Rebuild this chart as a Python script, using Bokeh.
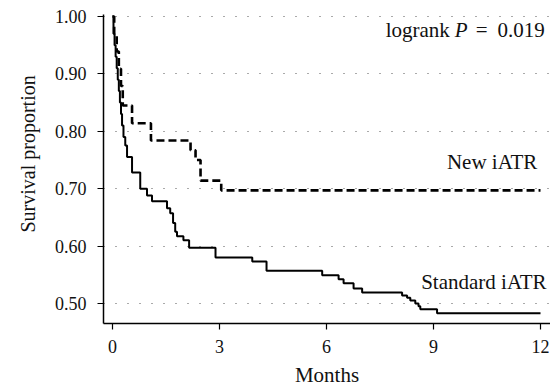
from bokeh.plotting import figure
from bokeh.models import FixedTicker, Range1d, Label, Title
from bokeh.embed import file_html
from bokeh.resources import INLINE

# Data
std_t = [0, 0.03, 0.06, 0.09, 0.12, 0.15, 0.18, 0.21, 0.24, 0.27, 0.31, 0.36, 0.41,
         0.55, 0.78, 0.97, 1.11, 1.53, 1.62, 1.70, 1.76, 1.81, 1.99, 2.15, 2.89, 3.92,
         4.32, 5.88, 6.34, 6.48, 6.76, 7.00, 8.12, 8.26, 8.35, 8.49, 8.58, 8.63, 9.10, 12.0]
std_s = [1.00, 0.97, 0.95, 0.93, 0.91, 0.89, 0.87, 0.85, 0.83, 0.81, 0.79, 0.775, 0.755,
         0.728, 0.700, 0.688, 0.678, 0.666, 0.657, 0.640, 0.625, 0.617, 0.610, 0.597, 0.580, 0.573,
         0.557, 0.549, 0.542, 0.535, 0.526, 0.519, 0.514, 0.510, 0.505, 0.500, 0.495, 0.490, 0.483, 0.483]

new_t = [0, 0.05, 0.12, 0.18, 0.24, 0.29, 0.55, 1.08, 2.19, 2.33, 2.47, 3.05, 12.0]
new_s = [1.0, 0.970, 0.939, 0.909, 0.879, 0.845, 0.814, 0.784, 0.767, 0.750, 0.714, 0.697, 0.697]

x_ticks = [0, 3, 6, 9, 12]
y_ticks = [0.5, 0.6, 0.7, 0.8, 0.9, 1.0]
y_tick_labels = ["0.50", "0.60", "0.70", "0.80", "0.90", "1.00"]

FONT = "Liberation Serif"
TICK_FS = "18px"
LAB_FS = "21px"

p = figure(width=550, height=391, output_backend="svg", toolbar_location=None,
           x_range=Range1d(-0.25, 12.28), y_range=Range1d(0.465, 1.0035),
           min_border_left=103, min_border_right=0, min_border_top=14, min_border_bottom=68)
p.outline_line_color = None
p.background_fill_color = "white"

for ax in (p.xaxis, p.yaxis):
    ax.major_label_text_font = FONT
    ax.major_label_text_font_size = TICK_FS
    ax.major_label_text_color = "#111111"
    ax.axis_label_text_font = FONT
    ax.axis_label_text_font_size = LAB_FS
    ax.axis_label_text_font_style = "normal"
    ax.axis_label_text_color = "#111111"
    ax.axis_line_color = "black"
    ax.axis_line_width = 1.5
    ax.major_tick_line_color = "black"
    ax.major_tick_line_width = 1.2
    ax.major_tick_out = 6
    ax.major_tick_in = 0
    ax.minor_tick_line_color = None

p.xaxis.ticker = FixedTicker(ticks=x_ticks)
p.yaxis.ticker = FixedTicker(ticks=y_ticks)
p.yaxis.major_label_overrides = {t: l for t, l in zip(y_ticks, y_tick_labels)}
p.xaxis.axis_label = "Months"
p.xaxis.major_label_standoff = 10
p.yaxis.major_label_standoff = 11
p.xaxis.axis_label_standoff = 7

# y axis label as a side title so that it can sit slightly above the frame centre
p.add_layout(Title(text="Survival proportion", align="left", offset=91, standoff=25,
                   text_font=FONT, text_font_size="20px", text_font_style="normal",
                   text_color="#111111"), "left")

p.xgrid.grid_line_color = None
p.ygrid.grid_line_color = "#555555"
p.ygrid.grid_line_dash = "1 11"
p.ygrid.grid_line_width = 1

# curves
p.step(std_t, std_s, mode="after", line_color="black", line_width=2)
p.step(new_t, new_s, mode="after", line_color="black", line_width=2.6, line_dash="8 4")

def lab(x, y, text, align="right", style="normal", dx=0):
    p.add_layout(Label(x=x, y=y, text=text, text_font=FONT, text_font_size=LAB_FS,
                       text_align=align, text_baseline="middle", text_font_style=style,
                       text_color="#111111", x_offset=dx))

lab(12.12, 0.976, "0.019")
lab(12.12, 0.976, "=", align="center", dx=-63)
lab(12.12, 0.976, "P", align="left", style="italic", dx=-90)
lab(12.12, 0.976, "logrank", dx=-95)
lab(11.91, 0.746, "New iATR")
lab(12.17, 0.537, "Standard iATR")

open("out.html", "w").write(file_html(p, INLINE))
